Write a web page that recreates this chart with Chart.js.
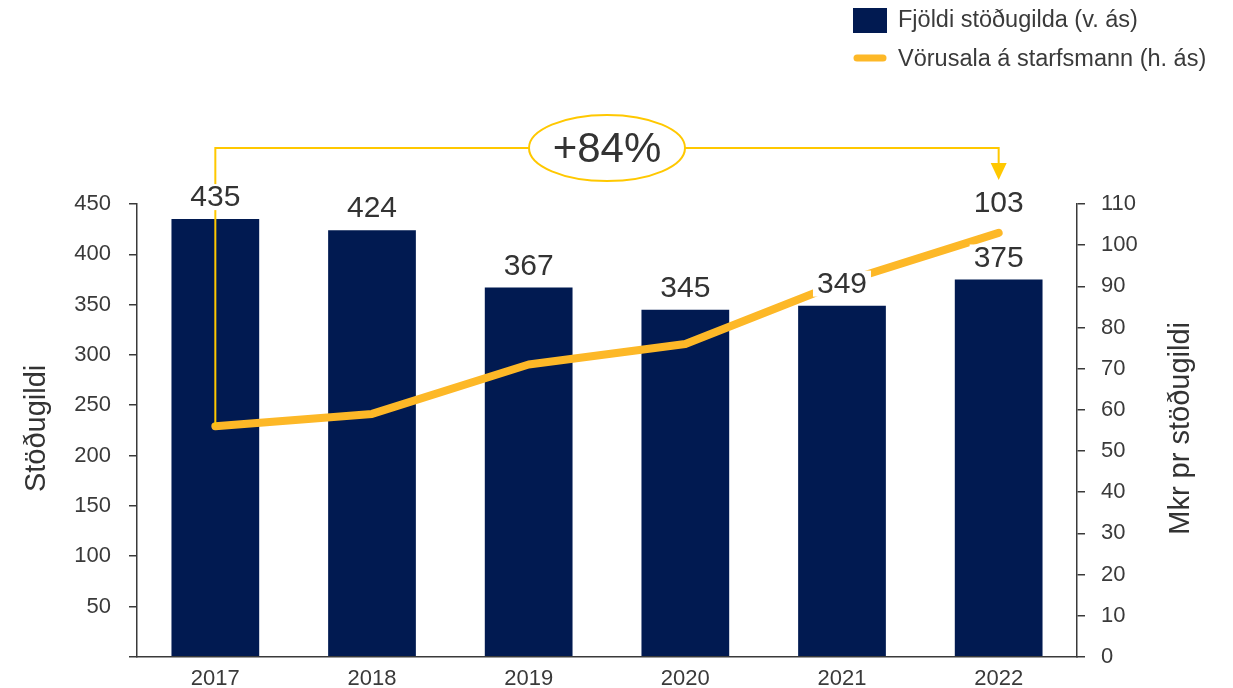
<!DOCTYPE html>
<html>
<head>
<meta charset="utf-8">
<script src="https://cdn.jsdelivr.net/npm/chart.js@4/dist/chart.umd.min.js"></script>
<style>
  body { margin: 0; background: #fff; }
  #wrap { width: 1233px; height: 688px; }
</style>
</head>
<body>
<div id="wrap"><canvas id="chrt" width="1233" height="688"></canvas></div>
<script>
// data
var years = ['2017', '2018', '2019', '2020', '2021', '2022']
var stodugildi = [435, 424, 367, 345, 349, 375]
var vorusala = [56, 59, 71, 76, 91, 103]
var leftTicksMax = 450
var rightTicksMax = 110

var navy = '#011A51'
var gold = '#FDB827'
var bracketGold = '#FFC800'
var txt = '#3a3a3a'
var font = '"Liberation Sans", Arial, sans-serif'

function labelBox(ctx, text, x, y, size) {
  ctx.font = size + 'px ' + font
  var w = ctx.measureText(text).width
  ctx.fillStyle = '#fff'
  ctx.fillRect(x - w / 2 - 4, y - 13, w + 8, 26)
  ctx.fillStyle = '#333'
  ctx.textAlign = 'center'
  ctx.textBaseline = 'middle'
  ctx.fillText(text, x, y + 1)
}

const Extras = {
  id: 'Extras',
  afterDraw(chart) {
    const {ctx, chartArea: {left, right, top, bottom}, scales: {x, y, y1}} = chart
    ctx.save()

    // bracket 2017 -> 2022
    var x0 = x.getPixelForValue(0)
    var x5 = x.getPixelForValue(years.length - 1)
    var yb = 148
    ctx.strokeStyle = bracketGold
    ctx.lineWidth = 2
    ctx.beginPath()
    ctx.moveTo(x0, y1.getPixelForValue(vorusala[0]))
    ctx.lineTo(x0, yb)
    ctx.lineTo(x5, yb)
    ctx.lineTo(x5, 164)
    ctx.stroke()
    ctx.fillStyle = bracketGold
    ctx.beginPath()
    ctx.moveTo(x5 - 8, 163)
    ctx.lineTo(x5 + 8, 163)
    ctx.lineTo(x5, 180)
    ctx.closePath()
    ctx.fill()

    // ellipse with change
    var cx = (x0 + x5) / 2
    ctx.beginPath()
    ctx.ellipse(cx, yb, 78, 33, 0, 0, Math.PI * 2)
    ctx.fillStyle = '#fff'
    ctx.fill()
    ctx.lineWidth = 2
    ctx.stroke()
    var pct = Math.round((vorusala[vorusala.length - 1] / vorusala[0] - 1) * 100)
    ctx.fillStyle = '#333'
    ctx.font = '42px ' + font
    ctx.textAlign = 'center'
    ctx.textBaseline = 'middle'
    ctx.fillText('+' + pct + '%', cx, yb + 2)

    // bar labels
    var barMeta = chart.getDatasetMeta(0)
    barMeta.data.forEach((bar, i) => {
      labelBox(ctx, String(stodugildi[i]), bar.x, bar.y - 22, 30)
    })
    // last line value
    var lineMeta = chart.getDatasetMeta(1)
    var last = lineMeta.data[lineMeta.data.length - 1]
    labelBox(ctx, String(vorusala[vorusala.length - 1]), last.x, last.y - 30, 30)

    // axis titles
    ctx.fillStyle = '#333'
    ctx.font = '29px ' + font
    ctx.textAlign = 'center'
    ctx.textBaseline = 'middle'
    var midY = (top + bottom) / 2
    ctx.save()
    ctx.translate(37, midY - 2)
    ctx.rotate(-Math.PI / 2)
    ctx.fillText('Stöðugildi', 0, 0)
    ctx.restore()
    ctx.save()
    ctx.translate(1181, midY - 2)
    ctx.rotate(-Math.PI / 2)
    ctx.fillText('Mkr pr stöðugildi', 0, 0)
    ctx.restore()

    // legend
    ctx.fillStyle = navy
    ctx.fillRect(853, 8, 34, 25)
    ctx.strokeStyle = gold
    ctx.lineWidth = 7
    ctx.lineCap = 'round'
    ctx.beginPath()
    ctx.moveTo(857, 58)
    ctx.lineTo(883, 58)
    ctx.stroke()
    ctx.fillStyle = txt
    ctx.font = '23.5px ' + font
    ctx.textAlign = 'left'
    ctx.fillText('Fjöldi stöðugilda (v. ás)', 898, 21)
    ctx.fillText('Vörusala á starfsmann (h. ás)', 898, 60)

    ctx.restore()
  }
}

const config = {
  type: 'bar',
  data: {
    labels: years,
    datasets: [{
      label: 'Fjöldi stöðugilda (v. ás)',
      data: stodugildi,
      backgroundColor: navy,
      yAxisID: 'y',
      barPercentage: 0.56,
      categoryPercentage: 1,
      order: 2
    }, {
      type: 'line',
      label: 'Vörusala á starfsmann (h. ás)',
      data: vorusala,
      borderColor: gold,
      borderWidth: 8,
      borderCapStyle: 'round',
      borderJoinStyle: 'round',
      pointRadius: 0,
      tension: 0,
      yAxisID: 'y1',
      order: 1
    }]
  },
  plugins: [Extras],
  options: {
    responsive: false,
    animation: false,
    devicePixelRatio: 1,
    layout: { padding: { top: 204, left: 0, right: 0, bottom: 0 } },
    plugins: {
      legend: { display: false },
      tooltip: { enabled: false }
    },
    scales: {
      x: {
        offset: true,
        grid: { display: false },
        border: { display: true, color: txt, width: 1.5 },
        ticks: { color: txt, font: { size: 22, family: font }, padding: 1, maxRotation: 0 },
        afterFit: (s) => { s.height = 31 }
      },
      y: {
        position: 'left',
        min: 0,
        max: leftTicksMax,
        grid: { drawOnChartArea: false, drawTicks: true, tickLength: 8, color: txt, lineWidth: 1.5 },
        border: { display: true, color: txt, width: 1.5 },
        ticks: {
          stepSize: 50,
          color: txt,
          padding: 18,
          font: { size: 22, family: font },
          callback: (v) => v === 0 ? '' : v
        },
        afterFit: (s) => { s.width = 137 }
      },
      y1: {
        position: 'right',
        min: 0,
        max: rightTicksMax,
        grid: { drawOnChartArea: false, drawTicks: true, tickLength: 8, color: txt, lineWidth: 1.5 },
        border: { display: true, color: txt, width: 1.5 },
        ticks: { stepSize: 10, color: txt, padding: 16, font: { size: 22, family: font } },
        afterFit: (s) => { s.width = 156 }
      }
    }
  }
}

const myChart = new Chart(document.getElementById('chrt'), config)
</script>
</body>
</html>
